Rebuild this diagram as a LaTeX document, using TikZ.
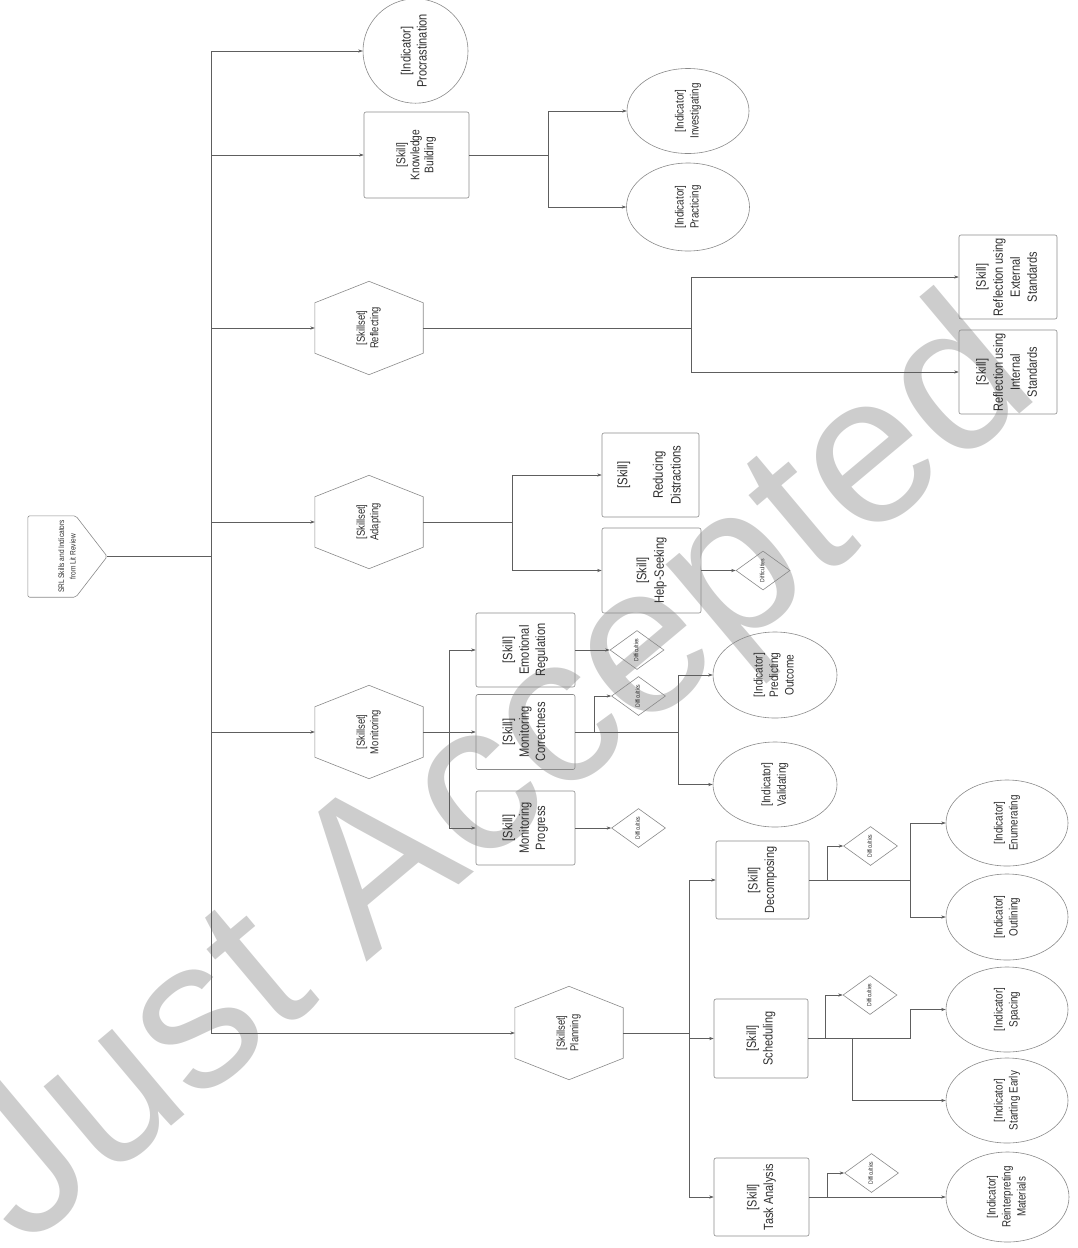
\documentclass[tikz,border=0pt]{standalone}
\usepackage{fontspec}
\setmainfont{Liberation Sans}[FakeStretch=0.82]
\newfontfamily\wmfont{Liberation Sans}
\usetikzlibrary{shapes.geometric,arrows.meta,calc}
\definecolor{lncol}{HTML}{5E5E5E}
\definecolor{bdcol}{HTML}{8A8A8A}
\definecolor{txcol}{HTML}{2E2E2E}
\definecolor{wmcol}{HTML}{CDCDCD}
\newcommand\rtext[3]{\rotatebox{90}{\fontsize{#1}{#2}\selectfont\begin{tabular}{@{}c@{}}#3\end{tabular}}}
\newcommand\hexout[1]{\draw[bdline] (#1.north) -- ($(#1.north east)!0.23!(#1.south east)$) -- ($(#1.north east)!0.77!(#1.south east)$) -- (#1.south) -- ($(#1.north west)!0.77!(#1.south west)$) -- ($(#1.north west)!0.23!(#1.south west)$) -- cycle;}
\tikzset{
  bdline/.style={draw=bdcol, line width=0.6pt},
  box/.style={draw=bdcol, line width=0.6pt, rounded corners=2pt, inner sep=0pt, text=txcol},
  ell/.style={ellipse, draw=bdcol, line width=0.6pt, inner sep=0pt, text=txcol},
  dia/.style={diamond, draw=bdcol, line width=0.6pt, inner sep=0pt, text=txcol, minimum width=54pt, minimum height=39pt},
  hexn/.style={inner sep=0pt, minimum width=108pt, minimum height=93pt, text=txcol},
  arr/.style={draw=lncol, line width=0.6pt, -{Stealth[length=4.5pt,width=3.2pt]}},
  con/.style={draw=lncol, line width=0.6pt},
}
\newcommand\diff{\rtext{6.2}{7}{Difficulties}}
\begin{document}
\begin{tikzpicture}[x=1pt,y=-1pt]
\useasboundingbox (0,0) rectangle (1078,1248);
% watermark
\node[font=\wmfont\fontsize{212}{212}\selectfont, text=wmcol, rotate=40, anchor=base west, inner sep=0pt] (wmk) at (24,1250) {Just Accepted};

% root
\node[inner sep=0pt, minimum width=79pt, minimum height=81pt, text=txcol] (root) at (67.5,556.5) {\rtext{8}{11.5}{SRL Skills and Indicators\\from Lit Review}};
\draw[bdline, rounded corners=2pt] (root.north west) -- ($(root.north west)+(48,0)$) -- (root.east) -- ($(root.south west)+(48,0)$) -- (root.south west) -- cycle;

% level 1
\node[ell, minimum width=105pt, minimum height=85pt] (proc) at (415.5,51) {\rtext{13.5}{16}{[Indicator]\\Procrastination}};
\node[box, minimum width=105pt, minimum height=86pt] (kb) at (416.5,155) {\rtext{12.5}{14}{[Skill]\\Knowledge\\Building}};
\node[hexn] (refl) at (369,328) {\rtext{11.5}{13.5}{[Skillset]\\Reflecting}}; \hexout{refl}
\node[hexn] (adap) at (369,522) {\rtext{11.5}{13.5}{[Skillset]\\Adapting}}; \hexout{adap}
\node[hexn] (moni) at (369,732) {\rtext{11.5}{13.5}{[Skillset]\\Monitoring}}; \hexout{moni}
\node[hexn] (plan) at (569,1033) {\rtext{11.5}{13.5}{[Skillset]\\Planning}}; \hexout{plan}

% knowledge building children
\node[ell, minimum width=122pt, minimum height=85pt] (inv) at (688,111) {\rtext{12}{15}{[Indicator]\\Investigating}};
\node[ell, minimum width=123pt, minimum height=88pt] (prac) at (688,207) {\rtext{12}{15}{[Indicator]\\Practicing}};

% reflecting children
\node[box, minimum width=98pt, minimum height=84pt] (rext) at (1008,277) {\rtext{13.4}{17}{[Skill]\\Reflection using\\External\\Standards}};
\node[box, minimum width=98pt, minimum height=84pt] (rint) at (1008,372) {\rtext{13.4}{17}{[Skill]\\Reflection using\\Internal\\Standards}};

% adapting children
\node[box, minimum width=97pt, minimum height=84pt] (red) at (650.5,475) {\rtext{13.8}{17.7}{[Skill]\\ \\Reducing\\Distractions}};
\node[box, minimum width=99pt, minimum height=85pt] (help) at (651.5,570.5) {\rtext{13.5}{17.5}{[Skill]\\Help-Seeking}};
\node[dia] (dhelp) at (763,570.5) {\diff};

% monitoring children
\node[box, minimum width=99pt, minimum height=74pt] (emo) at (525.5,650) {\rtext{13.5}{16.3}{[Skill]\\Emotional\\Regulation}};
\node[box, minimum width=99pt, minimum height=75pt] (mcor) at (525.5,732) {\rtext{13.5}{16.3}{[Skill]\\Monitoring\\Correctness}};
\node[box, minimum width=99pt, minimum height=74pt] (mprog) at (525.5,828) {\rtext{13.5}{16.3}{[Skill]\\Monitoring\\Progress}};
\node[dia] (demo) at (637,650) {\diff};
\node[dia] (dmcor) at (638.5,696) {\diff};
\node[dia] (dmprog) at (638.5,828) {\diff};
\node[ell, minimum width=124pt, minimum height=86pt] (pred) at (775,675) {\rtext{12.3}{15.5}{[Indicator]\\Predicting\\Outcome}};
\node[ell, minimum width=124pt, minimum height=85pt] (vali) at (775,784.5) {\rtext{12.3}{15.5}{[Indicator]\\Validating}};

% planning children
\node[box, minimum width=93pt, minimum height=78pt] (deco) at (762.5,880) {\rtext{13.3}{16.5}{[Skill]\\Decomposing}};
\node[box, minimum width=94pt, minimum height=79pt] (sche) at (761,1038.5) {\rtext{13.3}{16.5}{[Skill]\\Scheduling}};
\node[box, minimum width=95pt, minimum height=78pt] (task) at (761.5,1197) {\rtext{13.3}{16.5}{[Skill]\\Task Analysis}};
\node[dia] (ddeco) at (870.5,846) {\diff};
\node[dia] (dsche) at (870,995) {\diff};
\node[dia] (dtask) at (871.5,1173) {\diff};
\node[ell, minimum width=122pt, minimum height=86pt] (enum) at (1007,823) {\rtext{12}{15}{[Indicator]\\Enumerating}};
\node[ell, minimum width=122pt, minimum height=86pt] (outl) at (1007,917) {\rtext{12}{15}{[Indicator]\\Outlining}};
\node[ell, minimum width=122pt, minimum height=85pt] (spac) at (1007,1009.5) {\rtext{12}{15}{[Indicator]\\Spacing}};
\node[ell, minimum width=122pt, minimum height=85pt] (star) at (1007,1100.5) {\rtext{12}{15}{[Indicator]\\Starting Early}};
\node[ell, minimum width=123pt, minimum height=90pt] (rein) at (1007.5,1197) {\rtext{12}{15}{[Indicator]\\Reinterpreting\\Materials}};

% connectors: trunk
\coordinate (T) at (211,556.5);
\draw[con] (root.east) -- (T);
\draw[arr] (T) |- (proc.west);
\draw[arr] (T) |- (kb.west);
\draw[arr] (T) |- (refl.west);
\draw[arr] (T) |- (adap.west);
\draw[arr] (T) |- (moni.west);
\draw[arr] (T) |- (plan.west);

% knowledge building
\coordinate (kbj) at (548,155);
\draw[con] (kb.east) -- (kbj);
\draw[arr] (kbj) |- (inv.west);
\draw[arr] (kbj) |- (prac.west);

% reflecting
\coordinate (rfj) at (691,328);
\draw[con] (refl.east) -- (rfj);
\draw[arr] (rfj) |- (rext.west);
\draw[arr] (rfj) |- (rint.west);

% adapting
\coordinate (adj) at (512,522);
\draw[con] (adap.east) -- (adj);
\draw[arr] (adj) |- (red.west);
\draw[arr] (adj) |- (help.west);
\draw[arr] (help.east) -- (dhelp.west);

% monitoring
\coordinate (moj) at (449,732);
\draw[con] (moni.east) -- (moj);
\draw[arr] (moj) |- (emo.west);
\draw[arr] (moj) |- (mcor.west);
\draw[arr] (moj) |- (mprog.west);
\draw[arr] (emo.east) -- (demo.west);
\draw[arr] (mprog.east) -- (dmprog.west);
\coordinate (mcj1) at (594,732);
\coordinate (mcj2) at (678,732);
\draw[con] (mcor.east) -- (mcj2);
\draw[arr] (mcj1) |- (dmcor.west);
\draw[arr] (mcj2) |- (pred.west);
\draw[arr] (mcj2) |- (vali.west);

% planning
\coordinate (plj) at (689,1033);
\draw[con] (plan.east) -- (plj);
\draw[arr] (plj) |- (deco.west);
\draw[arr] (plj) |- (sche.west);
\draw[arr] (plj) |- (task.west);

\coordinate (dej1) at (827,880);
\coordinate (dej2) at (910,880);
\draw[con] (deco.east) -- (dej2);
\draw[arr] (dej1) |- (ddeco.west);
\draw[arr] (dej2) |- (enum.west);
\draw[arr] (dej2) |- (outl.west);

\coordinate (scj1) at (825,1038.5);
\coordinate (scj2) at (852,1038.5);
\coordinate (scj3) at (910,1038.5);
\draw[con] (sche.east) -- (scj3);
\draw[arr] (scj1) |- (dsche.west);
\draw[arr] (scj2) |- (star.west);
\draw[arr] (scj3) |- (spac.west);

\coordinate (taj) at (827,1197);
\draw[arr] (task.east) -- (rein.west);
\draw[arr] (taj) |- (dtask.west);
\end{tikzpicture}
\end{document}
